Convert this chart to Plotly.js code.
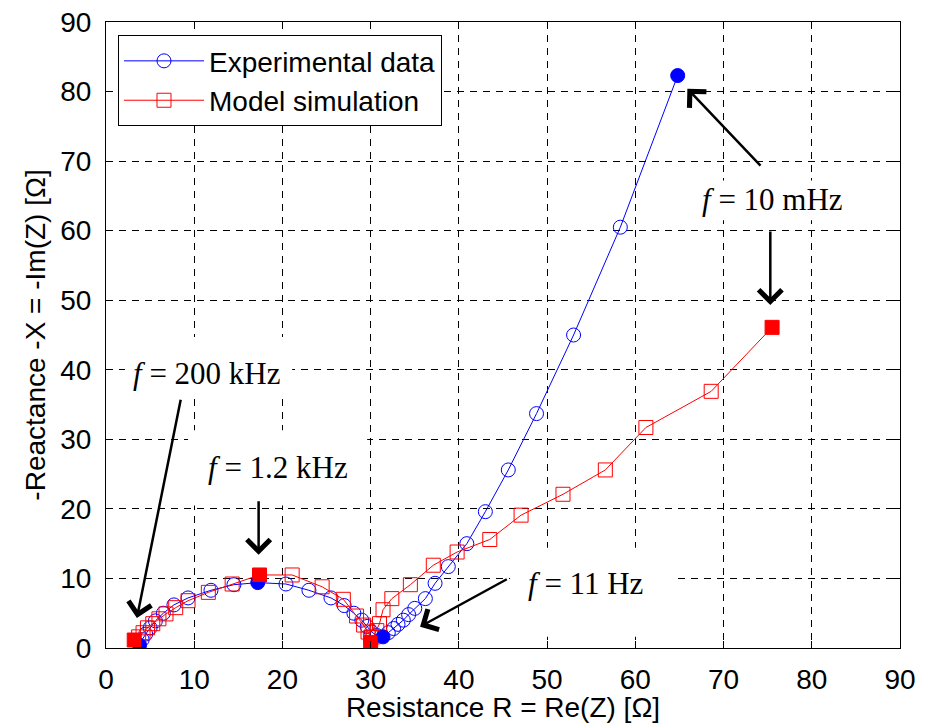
<!DOCTYPE html>
<html>
<head>
<meta charset="utf-8">
<script src="https://cdn.plot.ly/plotly-3.0.1.min.js"></script>
<style>html,body{margin:0;padding:0;background:#fff;}#chart{width:931px;height:723px;}</style>
</head>
<body>
<div id="chart"></div>
<script>
// Experimental data (blue circles), resistance R and reactance -X in ohms
const expR = [3.8, 4.1, 4.5, 5.0, 5.6, 6.5, 7.7, 9.3, 11.9, 14.5, 17.2, 20.4, 23.0, 25.5, 27.0, 28.1, 29.0, 29.6, 30.1, 30.7, 31.4, 32.0, 32.6, 33.1, 33.7, 34.3, 35.0, 36.2, 37.3, 38.8, 40.9, 43.0, 45.6, 48.8, 53.0, 58.3, 64.8];
const expX = [0.4, 1.2, 2.0, 2.9, 3.9, 5.0, 6.2, 7.2, 8.3, 9.1, 9.4, 9.2, 8.3, 7.2, 6.1, 5.0, 4.0, 3.1, 2.3, 1.8, 1.6, 2.2, 2.8, 3.4, 4.0, 4.8, 5.7, 7.1, 9.3, 11.7, 15.0, 19.6, 25.6, 33.7, 45.0, 60.5, 82.3];
// Model simulation (red squares)
const modR = [3.2, 3.7, 4.2, 4.7, 5.3, 6.0, 6.8, 7.9, 9.3, 11.6, 14.3, 17.4, 21.1, 24.5, 26.9, 28.4, 29.2, 29.7, 30.0, 30.0, 30.3, 30.7, 31.0, 31.4, 32.4, 34.5, 37.1, 39.8, 43.5, 47.05, 51.8, 56.6, 61.2, 68.6, 75.5];
const modX = [1.15, 1.6, 2.2, 2.9, 3.5, 4.2, 4.9, 5.8, 6.8, 8.0, 9.2, 10.5, 10.5, 8.8, 7.0, 4.6, 3.3, 2.3, 1.5, 0.8, 1.6, 2.5, 3.5, 5.5, 7.1, 9.1, 11.9, 13.8, 15.6, 19.1, 22.1, 25.6, 31.7, 36.9, 46.1];
// Indices of highlighted frequencies (200 kHz, 1.2 kHz, 11 Hz, 10 mHz)
const expHi = [0, 10, 20, 36];
const modHi = [0, 11, 19, 34];
const seriesNames = ["Experimental data", "Model simulation"];
const xTicks = [0, 10, 20, 30, 40, 50, 60, 70, 80, 90];
const yTicks = [0, 10, 20, 30, 40, 50, 60, 70, 80, 90];

const SANS = "Arial, 'Liberation Sans', sans-serif";
const SERIF = "'Times New Roman', 'Liberation Serif', serif";

const traces = [
  {x: expR, y: expX, name: seriesNames[0], type: "scatter", mode: "lines+markers",
   line: {color: "#0000ff", width: 1},
   marker: {symbol: "circle-open", size: 14, color: "#0000ff", line: {width: 1, color: "#0000ff"}}},
  {x: modR, y: modX, name: seriesNames[1], type: "scatter", mode: "lines+markers",
   line: {color: "#ff0000", width: 1},
   marker: {symbol: "square-open", size: 14, color: "#ff0000", line: {width: 1, color: "#ff0000"}}},
  {x: expHi.map(i => expR[i]), y: expHi.map(i => expX[i]), type: "scatter", mode: "markers", showlegend: false,
   marker: {symbol: "circle", size: 14, color: "#0000ff"}},
  {x: modHi.map(i => modR[i]), y: modHi.map(i => modX[i]), type: "scatter", mode: "markers", showlegend: false,
   marker: {symbol: "square", size: 14, color: "#ff0000"}}
];

function arrow(ax, ay, x, y) {
  return {x: x, y: y, ax: ax, ay: ay, xref: "x", yref: "y", axref: "x", ayref: "y",
    text: "", showarrow: true, arrowhead: 4, arrowsize: 1.8, arrowwidth: 2.5, arrowcolor: "#000", standoff: 0};
}
function label(x, y, txt) {
  return {x: x, y: y, xref: "x", yref: "y", text: txt, showarrow: false,
    font: {family: SERIF, size: 31, color: "#000"}, xanchor: "center", yanchor: "middle"};
}
function box(x0, x1, y0, y1) {
  return {type: "rect", xref: "x", yref: "y", x0: x0, x1: x1, y0: y0, y1: y1,
    fillcolor: "#fff", line: {width: 0}, layer: "between"};
}

const axisCommon = {
  range: [0, 90], tickmode: "array", showgrid: true, gridcolor: "#000", gridwidth: 1, griddash: "7px,6px",
  zeroline: false, showline: true, linecolor: "#000", linewidth: 1, mirror: "ticks",
  ticks: "inside", ticklen: 7, tickcolor: "#000", tickwidth: 1,
  tickfont: {family: SANS, size: 28, color: "#000"}, automargin: false, fixedrange: true
};

const layout = {
  width: 931, height: 723,
  margin: {l: 106, r: 31, t: 22, b: 75},
  paper_bgcolor: "#fff", plot_bgcolor: "#fff",
  showlegend: true,
  xaxis: Object.assign({}, axisCommon, {tickvals: xTicks, ticktext: xTicks.map(String),
    ticklabelstandoff: 6,
    title: {text: "Resistance R = Re(Z) [Ω]", font: {family: SANS, size: 28, color: "#000"}, standoff: 0}}),
  yaxis: Object.assign({}, axisCommon, {tickvals: yTicks, ticktext: yTicks.map(String),
    ticklabelstandoff: 8,
    title: {text: "-Reactance -X = -Im(Z) [Ω]", font: {family: SANS, size: 28, color: "#000"}, standoff: 6}}),
  legend: {x: 0.0151, y: 0.979, xanchor: "left", yanchor: "top", bgcolor: "#fff",
    bordercolor: "#000", borderwidth: 1, itemwidth: 80, tracegroupgap: 0,
    font: {family: SANS, size: 28, color: "#000"}},
  shapes: [
    box(2.15, 21.1, 35.8, 44.7),
    box(9.3, 29.6, 20.5, 31.3),
    box(45.8, 64.3, 1.6, 14.4),
    box(66.4, 85.3, 61.5, 67.2)
  ],
  annotations: [
    label(11.45, 39.5, "<i>f</i> = 200 kHz"),
    label(19.5, 25.9, "<i>f</i> = 1.2 kHz"),
    label(54.3, 9.3, "<i>f</i> = 11 Hz"),
    label(75.6, 64.5, "<i>f</i> = 10 mHz"),
    arrow(8.5, 35.9, 3.5, 4.3),
    arrow(17.3, 21.3, 17.3, 13.4),
    arrow(45.6, 10.0, 35.6, 3.06),
    arrow(74.35, 69.15, 65.9, 80.4),
    arrow(75.3, 60.1, 75.3, 49.3)
  ]
};

Plotly.newPlot("chart", traces, layout, {displayModeBar: false, staticPlot: true});
</script>
</body>
</html>
